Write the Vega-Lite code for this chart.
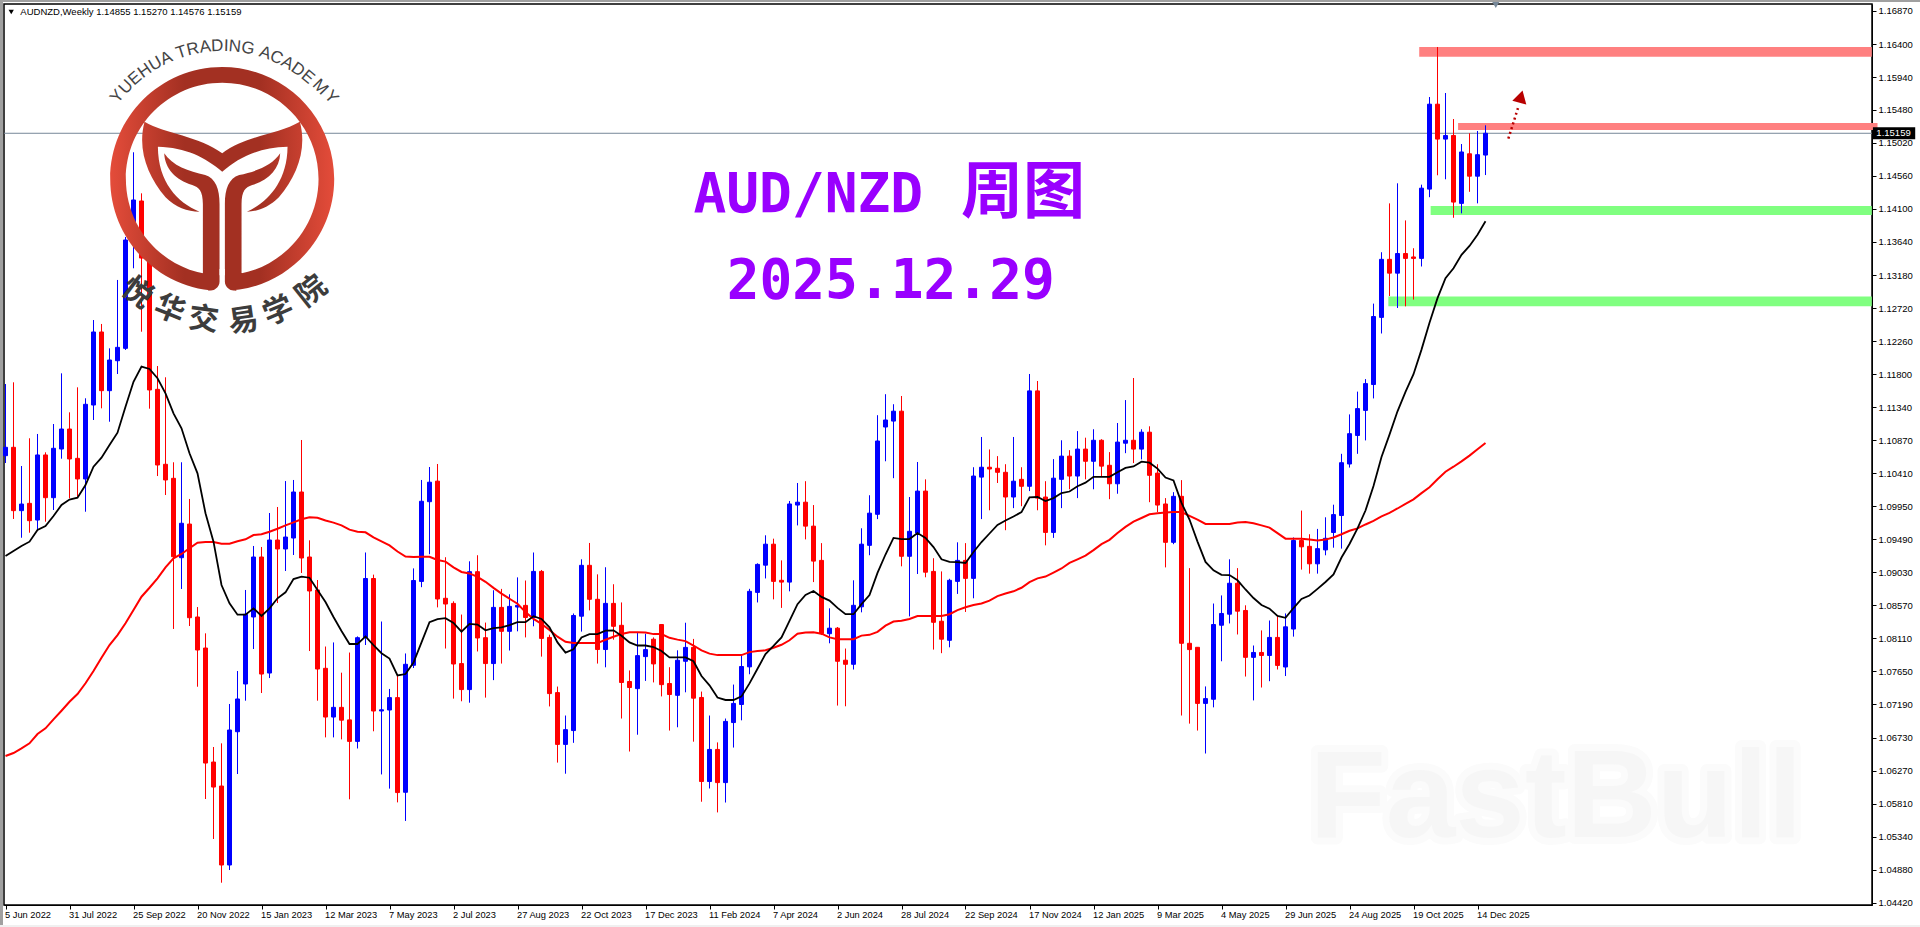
{"$schema":"https://vega.github.io/schema/vega-lite/v6.json","width":1868,"height":901,"autosize":{"type":"none"},"padding":{"left":4,"top":4,"right":48,"bottom":22},"background":"#ffffff","config":{"view":{"stroke":"#000000","strokeWidth":1.5,"fill":"#ffffff"},"axis":{"title":null,"grid":false,"labelOverlap":false,"labelBound":false,"labelFlush":false}},
"datasets":{"c":[
{"d":"2022-06-05","o":1.1066,"h":1.1166,"l":1.10558,"c":1.10777,"f":1.09261,"s":1.06469},
{"d":"2022-06-12","o":1.10777,"h":1.11684,"l":1.09777,"c":1.09893,"f":1.0933,"s":1.06511},
{"d":"2022-06-19","o":1.09893,"h":1.10516,"l":1.09515,"c":1.09985,"f":1.094,"s":1.06576},
{"d":"2022-06-26","o":1.09995,"h":1.10903,"l":1.09585,"c":1.09753,"f":1.0946,"s":1.06646},
{"d":"2022-07-03","o":1.09762,"h":1.10963,"l":1.09623,"c":1.1067,"f":1.09623,"s":1.06776},
{"d":"2022-07-10","o":1.1067,"h":1.10707,"l":1.09739,"c":1.10074,"f":1.09679,"s":1.06855},
{"d":"2022-07-17","o":1.10074,"h":1.11102,"l":1.09902,"c":1.10763,"f":1.09818,"s":1.06981},
{"d":"2022-07-24","o":1.10753,"h":1.11809,"l":1.10618,"c":1.11032,"f":1.09972,"s":1.07101},
{"d":"2022-07-31","o":1.11032,"h":1.11265,"l":1.10065,"c":1.10614,"f":1.10048,"s":1.07226},
{"d":"2022-08-07","o":1.10623,"h":1.11614,"l":1.10088,"c":1.10335,"f":1.10074,"s":1.07334},
{"d":"2022-08-14","o":1.10335,"h":1.11461,"l":1.09878,"c":1.11377,"f":1.10251,"s":1.07484},
{"d":"2022-08-21","o":1.11367,"h":1.12553,"l":1.11158,"c":1.12386,"f":1.10506,"s":1.07655},
{"d":"2022-08-28","o":1.12386,"h":1.12498,"l":1.11321,"c":1.11567,"f":1.10632,"s":1.07841},
{"d":"2022-09-04","o":1.11567,"h":1.12158,"l":1.11134,"c":1.11995,"f":1.10809,"s":1.08018},
{"d":"2022-09-11","o":1.11985,"h":1.13112,"l":1.118,"c":1.12172,"f":1.10981,"s":1.08157},
{"d":"2022-09-18","o":1.12158,"h":1.13712,"l":1.12135,"c":1.1367,"f":1.11344,"s":1.08321},
{"d":"2022-09-25","o":1.1367,"h":1.14894,"l":1.13275,"c":1.14228,"f":1.11692,"s":1.08506},
{"d":"2022-10-02","o":1.14214,"h":1.14321,"l":1.1239,"c":1.13418,"f":1.11902,"s":1.08692},
{"d":"2022-10-09","o":1.13418,"h":1.13446,"l":1.11316,"c":1.11577,"f":1.1187,"s":1.08817},
{"d":"2022-10-16","o":1.11586,"h":1.11911,"l":1.10376,"c":1.1053,"f":1.1174,"s":1.08949},
{"d":"2022-10-23","o":1.1054,"h":1.11754,"l":1.10111,"c":1.10321,"f":1.1153,"s":1.09102},
{"d":"2022-10-30","o":1.10344,"h":1.10568,"l":1.08242,"c":1.0925,"f":1.11251,"s":1.09228},
{"d":"2022-11-06","o":1.09236,"h":1.10568,"l":1.088,"c":1.09717,"f":1.11042,"s":1.09288},
{"d":"2022-11-13","o":1.09706,"h":1.10056,"l":1.08283,"c":1.08399,"f":1.10693,"s":1.09368},
{"d":"2022-11-20","o":1.08409,"h":1.08548,"l":1.07436,"c":1.07948,"f":1.10414,"s":1.09446},
{"d":"2022-11-27","o":1.07976,"h":1.08181,"l":1.05869,"c":1.06371,"f":1.09856,"s":1.09455},
{"d":"2022-12-04","o":1.06385,"h":1.06595,"l":1.05311,"c":1.06036,"f":1.0946,"s":1.09455},
{"d":"2022-12-11","o":1.0605,"h":1.06646,"l":1.04701,"c":1.04948,"f":1.08855,"s":1.09432},
{"d":"2022-12-18","o":1.04948,"h":1.07195,"l":1.04878,"c":1.06832,"f":1.086,"s":1.09432},
{"d":"2022-12-25","o":1.06808,"h":1.07655,"l":1.06218,"c":1.07265,"f":1.08441,"s":1.09465},
{"d":"2023-01-01","o":1.07474,"h":1.08786,"l":1.07241,"c":1.08447,"f":1.08441,"s":1.09493},
{"d":"2023-01-08","o":1.08409,"h":1.094,"l":1.07962,"c":1.09246,"f":1.0853,"s":1.09553},
{"d":"2023-01-15","o":1.09246,"h":1.09386,"l":1.07348,"c":1.07613,"f":1.08423,"s":1.09563},
{"d":"2023-01-22","o":1.07627,"h":1.0986,"l":1.07557,"c":1.09483,"f":1.0853,"s":1.09599},
{"d":"2023-01-29","o":1.09483,"h":1.09944,"l":1.08604,"c":1.09358,"f":1.0867,"s":1.09641},
{"d":"2023-02-05","o":1.09358,"h":1.10306,"l":1.09051,"c":1.09525,"f":1.08753,"s":1.09688},
{"d":"2023-02-12","o":1.09511,"h":1.10321,"l":1.09274,"c":1.10153,"f":1.08939,"s":1.0973},
{"d":"2023-02-19","o":1.10153,"h":1.10879,"l":1.09023,"c":1.09232,"f":1.08971,"s":1.09772},
{"d":"2023-02-26","o":1.09246,"h":1.09479,"l":1.07934,"c":1.08772,"f":1.08957,"s":1.098},
{"d":"2023-03-05","o":1.08786,"h":1.08925,"l":1.07241,"c":1.07683,"f":1.08786,"s":1.09794},
{"d":"2023-03-12","o":1.07693,"h":1.07997,"l":1.06729,"c":1.07013,"f":1.08618,"s":1.09755},
{"d":"2023-03-19","o":1.07013,"h":1.08054,"l":1.06729,"c":1.07148,"f":1.08409,"s":1.09726},
{"d":"2023-03-26","o":1.07148,"h":1.07632,"l":1.06701,"c":1.06969,"f":1.08214,"s":1.09688},
{"d":"2023-04-02","o":1.06973,"h":1.07913,"l":1.05865,"c":1.06673,"f":1.08032,"s":1.09628},
{"d":"2023-04-09","o":1.06673,"h":1.08138,"l":1.06574,"c":1.0812,"f":1.08032,"s":1.096},
{"d":"2023-04-16","o":1.0812,"h":1.09309,"l":1.08018,"c":1.08946,"f":1.08138,"s":1.09591},
{"d":"2023-04-23","o":1.08946,"h":1.09,"l":1.06814,"c":1.07097,"f":1.08018,"s":1.09519},
{"d":"2023-04-30","o":1.07097,"h":1.08346,"l":1.06212,"c":1.07114,"f":1.07904,"s":1.09463},
{"d":"2023-05-07","o":1.07111,"h":1.07405,"l":1.06014,"c":1.07284,"f":1.07828,"s":1.09407},
{"d":"2023-05-14","o":1.07284,"h":1.07585,"l":1.05822,"c":1.05959,"f":1.07594,"s":1.09323},
{"d":"2023-05-21","o":1.05963,"h":1.079,"l":1.05563,"c":1.07749,"f":1.07613,"s":1.09252},
{"d":"2023-05-28","o":1.07735,"h":1.09087,"l":1.07697,"c":1.08918,"f":1.07772,"s":1.09246},
{"d":"2023-06-04","o":1.08905,"h":1.10321,"l":1.08825,"c":1.10024,"f":1.08054,"s":1.09248},
{"d":"2023-06-11","o":1.10018,"h":1.10502,"l":1.09285,"c":1.1029,"f":1.08336,"s":1.09248},
{"d":"2023-06-18","o":1.10305,"h":1.10544,"l":1.08543,"c":1.0866,"f":1.0838,"s":1.09205},
{"d":"2023-06-25","o":1.0867,"h":1.09243,"l":1.07969,"c":1.0859,"f":1.08392,"s":1.09182},
{"d":"2023-07-02","o":1.08599,"h":1.08628,"l":1.0727,"c":1.07753,"f":1.08326,"s":1.09102},
{"d":"2023-07-09","o":1.07759,"h":1.08443,"l":1.07233,"c":1.07396,"f":1.08205,"s":1.09037},
{"d":"2023-07-16","o":1.07396,"h":1.09186,"l":1.07213,"c":1.09041,"f":1.08312,"s":1.09017},
{"d":"2023-07-23","o":1.09041,"h":1.09271,"l":1.07928,"c":1.08116,"f":1.08303,"s":1.0897},
{"d":"2023-07-30","o":1.0812,"h":1.08331,"l":1.07284,"c":1.07759,"f":1.08223,"s":1.089},
{"d":"2023-08-06","o":1.07759,"h":1.08782,"l":1.07528,"c":1.08543,"f":1.08255,"s":1.08815},
{"d":"2023-08-13","o":1.08543,"h":1.08801,"l":1.07759,"c":1.08209,"f":1.08265,"s":1.08735},
{"d":"2023-08-20","o":1.08209,"h":1.08726,"l":1.07941,"c":1.08557,"f":1.08297,"s":1.08664},
{"d":"2023-08-27","o":1.08548,"h":1.08962,"l":1.08209,"c":1.08571,"f":1.08336,"s":1.08594},
{"d":"2023-09-03","o":1.08571,"h":1.08918,"l":1.08124,"c":1.08402,"f":1.08336,"s":1.08477},
{"d":"2023-09-10","o":1.08402,"h":1.09309,"l":1.08279,"c":1.09045,"f":1.0842,"s":1.08382},
{"d":"2023-09-17","o":1.09045,"h":1.09065,"l":1.07856,"c":1.0811,"f":1.08382,"s":1.08312},
{"d":"2023-09-24","o":1.08124,"h":1.08162,"l":1.07161,"c":1.0734,"f":1.08265,"s":1.08227},
{"d":"2023-10-01","o":1.07354,"h":1.07438,"l":1.06377,"c":1.06631,"f":1.08054,"s":1.08134},
{"d":"2023-10-08","o":1.06631,"h":1.07034,"l":1.06222,"c":1.06837,"f":1.07913,"s":1.08063},
{"d":"2023-10-15","o":1.06824,"h":1.08458,"l":1.06653,"c":1.0843,"f":1.07959,"s":1.08045},
{"d":"2023-10-22","o":1.0842,"h":1.09214,"l":1.08205,"c":1.0913,"f":1.08124,"s":1.08045},
{"d":"2023-10-29","o":1.0913,"h":1.09442,"l":1.08501,"c":1.08656,"f":1.08171,"s":1.08045},
{"d":"2023-11-05","o":1.08656,"h":1.09004,"l":1.07759,"c":1.07955,"f":1.08171,"s":1.08045},
{"d":"2023-11-12","o":1.07955,"h":1.09103,"l":1.07707,"c":1.08599,"f":1.08219,"s":1.08092},
{"d":"2023-11-19","o":1.08599,"h":1.08866,"l":1.08092,"c":1.08279,"f":1.08223,"s":1.08134},
{"d":"2023-11-26","o":1.08293,"h":1.08612,"l":1.06992,"c":1.07495,"f":1.08148,"s":1.08171},
{"d":"2023-12-03","o":1.07509,"h":1.07663,"l":1.06532,"c":1.07425,"f":1.08054,"s":1.08195},
{"d":"2023-12-10","o":1.07409,"h":1.08185,"l":1.06766,"c":1.0787,"f":1.08011,"s":1.08195},
{"d":"2023-12-17","o":1.07856,"h":1.08176,"l":1.07517,"c":1.07954,"f":1.08011,"s":1.08191},
{"d":"2023-12-24","o":1.08099,"h":1.08124,"l":1.07496,"c":1.07754,"f":1.0799,"s":1.0817},
{"d":"2023-12-31","o":1.08304,"h":1.08311,"l":1.07301,"c":1.07465,"f":1.07934,"s":1.0817},
{"d":"2024-01-07","o":1.07481,"h":1.07708,"l":1.06824,"c":1.07327,"f":1.07846,"s":1.08118},
{"d":"2024-01-14","o":1.07316,"h":1.07944,"l":1.0687,"c":1.07806,"f":1.07846,"s":1.08093},
{"d":"2024-01-21","o":1.07791,"h":1.08329,"l":1.07358,"c":1.07985,"f":1.07846,"s":1.08072},
{"d":"2024-01-28","o":1.07985,"h":1.08103,"l":1.06669,"c":1.07276,"f":1.07791,"s":1.08011},
{"d":"2024-02-04","o":1.07286,"h":1.07368,"l":1.05831,"c":1.06113,"f":1.07585,"s":1.07944},
{"d":"2024-02-11","o":1.06113,"h":1.07034,"l":1.06016,"c":1.06561,"f":1.07455,"s":1.07898},
{"d":"2024-02-18","o":1.06561,"h":1.06659,"l":1.05682,"c":1.06098,"f":1.07285,"s":1.07877},
{"d":"2024-02-25","o":1.06098,"h":1.06992,"l":1.0582,"c":1.06952,"f":1.07251,"s":1.07877},
{"d":"2024-03-03","o":1.06936,"h":1.07466,"l":1.06587,"c":1.07203,"f":1.07251,"s":1.07877},
{"d":"2024-03-10","o":1.07188,"h":1.07867,"l":1.06967,"c":1.07718,"f":1.07301,"s":1.07877},
{"d":"2024-03-17","o":1.07713,"h":1.08802,"l":1.0761,"c":1.08767,"f":1.07482,"s":1.07919},
{"d":"2024-03-24","o":1.08752,"h":1.09158,"l":1.08612,"c":1.09143,"f":1.07687,"s":1.07934},
{"d":"2024-03-31","o":1.09132,"h":1.09549,"l":1.08947,"c":1.09425,"f":1.07892,"s":1.07944},
{"d":"2024-04-07","o":1.09425,"h":1.09502,"l":1.08655,"c":1.08906,"f":1.08005,"s":1.0798},
{"d":"2024-04-14","o":1.08921,"h":1.09199,"l":1.08536,"c":1.08896,"f":1.08124,"s":1.08021},
{"d":"2024-04-21","o":1.08896,"h":1.10028,"l":1.08767,"c":1.09986,"f":1.08356,"s":1.08084},
{"d":"2024-04-28","o":1.09971,"h":1.10279,"l":1.09687,"c":1.10011,"f":1.08588,"s":1.08176},
{"d":"2024-05-05","o":1.10011,"h":1.10304,"l":1.09492,"c":1.09677,"f":1.08716,"s":1.08191},
{"d":"2024-05-12","o":1.09677,"h":1.09971,"l":1.08896,"c":1.09189,"f":1.08772,"s":1.08197},
{"d":"2024-05-19","o":1.09199,"h":1.0944,"l":1.08157,"c":1.08176,"f":1.08689,"s":1.08176},
{"d":"2024-05-26","o":1.08176,"h":1.0853,"l":1.08042,"c":1.08253,"f":1.08638,"s":1.08124},
{"d":"2024-06-02","o":1.08253,"h":1.08269,"l":1.07173,"c":1.07791,"f":1.08536,"s":1.08099},
{"d":"2024-06-09","o":1.07806,"h":1.07969,"l":1.07163,"c":1.07749,"f":1.08448,"s":1.08099},
{"d":"2024-06-16","o":1.07749,"h":1.08921,"l":1.07676,"c":1.08572,"f":1.08448,"s":1.08099},
{"d":"2024-06-23","o":1.08551,"h":1.09647,"l":1.08474,"c":1.09425,"f":1.08588,"s":1.08149},
{"d":"2024-06-30","o":1.09409,"h":1.10108,"l":1.09271,"c":1.09858,"f":1.08716,"s":1.0816},
{"d":"2024-07-07","o":1.09842,"h":1.11225,"l":1.09775,"c":1.10865,"f":1.09024,"s":1.08201},
{"d":"2024-07-14","o":1.1106,"h":1.11518,"l":1.10582,"c":1.11158,"f":1.09281,"s":1.08289},
{"d":"2024-07-21","o":1.11143,"h":1.11378,"l":1.10346,"c":1.11281,"f":1.09513,"s":1.08345},
{"d":"2024-07-28","o":1.11281,"h":1.11493,"l":1.09116,"c":1.09256,"f":1.09497,"s":1.08356},
{"d":"2024-08-04","o":1.09256,"h":1.10083,"l":1.08417,"c":1.09605,"f":1.09497,"s":1.08381},
{"d":"2024-08-11","o":1.0958,"h":1.10572,"l":1.09009,"c":1.10166,"f":1.0958,"s":1.08423},
{"d":"2024-08-18","o":1.10166,"h":1.1033,"l":1.08963,"c":1.09034,"f":1.09513,"s":1.08423},
{"d":"2024-08-25","o":1.09045,"h":1.09229,"l":1.07954,"c":1.08335,"f":1.09385,"s":1.08423},
{"d":"2024-09-01","o":1.0835,"h":1.09045,"l":1.07904,"c":1.08099,"f":1.09214,"s":1.08423},
{"d":"2024-09-08","o":1.08084,"h":1.08942,"l":1.07986,"c":1.08921,"f":1.09178,"s":1.08448},
{"d":"2024-09-15","o":1.08906,"h":1.09451,"l":1.08731,"c":1.09199,"f":1.09174,"s":1.08505},
{"d":"2024-09-22","o":1.09199,"h":1.0944,"l":1.08479,"c":1.08948,"f":1.09163,"s":1.08545},
{"d":"2024-09-29","o":1.08948,"h":1.10499,"l":1.0867,"c":1.10376,"f":1.09317,"s":1.08576},
{"d":"2024-10-06","o":1.10361,"h":1.10921,"l":1.09775,"c":1.10499,"f":1.09455,"s":1.08597},
{"d":"2024-10-13","o":1.10499,"h":1.10747,"l":1.09898,"c":1.10474,"f":1.09574,"s":1.08638},
{"d":"2024-10-20","o":1.10484,"h":1.10654,"l":1.10279,"c":1.10428,"f":1.09693,"s":1.087},
{"d":"2024-10-27","o":1.10428,"h":1.10541,"l":1.0962,"c":1.10083,"f":1.09755,"s":1.08737},
{"d":"2024-11-03","o":1.10083,"h":1.10921,"l":1.09928,"c":1.10304,"f":1.09811,"s":1.08767},
{"d":"2024-11-10","o":1.1033,"h":1.10499,"l":1.09955,"c":1.10233,"f":1.09873,"s":1.08817},
{"d":"2024-11-17","o":1.10233,"h":1.118,"l":1.10166,"c":1.11564,"f":1.10078,"s":1.08896},
{"d":"2024-11-24","o":1.11564,"h":1.11702,"l":1.09898,"c":1.10068,"f":1.10083,"s":1.08948},
{"d":"2024-12-01","o":1.10083,"h":1.10304,"l":1.09409,"c":1.09589,"f":1.10026,"s":1.08973},
{"d":"2024-12-08","o":1.09589,"h":1.10612,"l":1.09513,"c":1.10346,"f":1.10068,"s":1.09029},
{"d":"2024-12-15","o":1.1033,"h":1.10875,"l":1.09928,"c":1.10654,"f":1.10139,"s":1.09086},
{"d":"2024-12-22","o":1.10654,"h":1.10737,"l":1.10191,"c":1.10376,"f":1.1016,"s":1.09163},
{"d":"2024-12-29","o":1.10376,"h":1.11003,"l":1.10068,"c":1.10752,"f":1.10233,"s":1.09214},
{"d":"2025-01-05","o":1.10752,"h":1.10911,"l":1.1033,"c":1.10582,"f":1.10284,"s":1.09266},
{"d":"2025-01-12","o":1.10582,"h":1.11029,"l":1.10191,"c":1.10875,"f":1.10365,"s":1.09343},
{"d":"2025-01-19","o":1.10875,"h":1.1089,"l":1.10376,"c":1.10514,"f":1.10365,"s":1.09425},
{"d":"2025-01-26","o":1.10526,"h":1.1071,"l":1.10053,"c":1.10268,"f":1.10365,"s":1.09486},
{"d":"2025-02-02","o":1.10268,"h":1.11116,"l":1.10129,"c":1.1085,"f":1.10428,"s":1.0958},
{"d":"2025-02-09","o":1.10834,"h":1.11436,"l":1.10695,"c":1.10875,"f":1.1049,"s":1.09666},
{"d":"2025-02-16","o":1.10875,"h":1.11744,"l":1.10557,"c":1.10752,"f":1.1051,"s":1.09739},
{"d":"2025-02-23","o":1.10752,"h":1.11029,"l":1.10608,"c":1.10988,"f":1.10577,"s":1.0979},
{"d":"2025-03-02","o":1.10988,"h":1.1107,"l":1.10011,"c":1.10386,"f":1.10562,"s":1.09842},
{"d":"2025-03-09","o":1.10417,"h":1.10541,"l":1.09873,"c":1.09971,"f":1.1048,"s":1.09858},
{"d":"2025-03-16","o":1.09986,"h":1.10068,"l":1.09101,"c":1.09451,"f":1.10355,"s":1.09867},
{"d":"2025-03-23","o":1.09451,"h":1.10151,"l":1.09425,"c":1.10093,"f":1.10315,"s":1.09873},
{"d":"2025-03-30","o":1.10093,"h":1.10319,"l":1.07034,"c":1.08042,"f":1.10001,"s":1.09873},
{"d":"2025-04-06","o":1.08042,"h":1.09091,"l":1.06921,"c":1.07954,"f":1.09769,"s":1.09821},
{"d":"2025-04-13","o":1.07986,"h":1.07986,"l":1.06824,"c":1.07203,"f":1.09461,"s":1.09769},
{"d":"2025-04-20","o":1.07203,"h":1.0744,"l":1.06504,"c":1.0727,"f":1.09178,"s":1.09708},
{"d":"2025-04-27","o":1.07261,"h":1.08597,"l":1.07148,"c":1.08304,"f":1.09061,"s":1.09708},
{"d":"2025-05-04","o":1.08294,"h":1.0871,"l":1.07791,"c":1.08458,"f":1.08998,"s":1.09708},
{"d":"2025-05-11","o":1.08448,"h":1.09214,"l":1.08319,"c":1.0888,"f":1.08994,"s":1.09708},
{"d":"2025-05-18","o":1.0888,"h":1.09091,"l":1.08165,"c":1.0849,"f":1.08921,"s":1.09729},
{"d":"2025-05-25","o":1.085,"h":1.08572,"l":1.07578,"c":1.07846,"f":1.08793,"s":1.09733},
{"d":"2025-06-01","o":1.07846,"h":1.08011,"l":1.07245,"c":1.07914,"f":1.08674,"s":1.09718},
{"d":"2025-06-08","o":1.07914,"h":1.08222,"l":1.07425,"c":1.07872,"f":1.08577,"s":1.09687},
{"d":"2025-06-15","o":1.07872,"h":1.0836,"l":1.07513,"c":1.08124,"f":1.08525,"s":1.09656},
{"d":"2025-06-22","o":1.08124,"h":1.08417,"l":1.07676,"c":1.07733,"f":1.08423,"s":1.0958},
{"d":"2025-06-29","o":1.07711,"h":1.08459,"l":1.07585,"c":1.08272,"f":1.08398,"s":1.09502},
{"d":"2025-07-06","o":1.08241,"h":1.09519,"l":1.08135,"c":1.09476,"f":1.08534,"s":1.09502},
{"d":"2025-07-13","o":1.09476,"h":1.09894,"l":1.0907,"c":1.09388,"f":1.0866,"s":1.09502},
{"d":"2025-07-20","o":1.09395,"h":1.09564,"l":1.09014,"c":1.09151,"f":1.08709,"s":1.09489},
{"d":"2025-07-27","o":1.09151,"h":1.09638,"l":1.09014,"c":1.09363,"f":1.08802,"s":1.09476},
{"d":"2025-08-03","o":1.09345,"h":1.098,"l":1.0927,"c":1.09507,"f":1.08897,"s":1.09489},
{"d":"2025-08-10","o":1.09588,"h":1.09976,"l":1.09376,"c":1.09838,"f":1.09002,"s":1.09519},
{"d":"2025-08-17","o":1.09825,"h":1.10686,"l":1.09363,"c":1.10562,"f":1.09239,"s":1.09564},
{"d":"2025-08-24","o":1.10544,"h":1.11236,"l":1.10494,"c":1.10967,"f":1.09428,"s":1.09613},
{"d":"2025-08-31","o":1.10942,"h":1.11554,"l":1.10686,"c":1.11317,"f":1.09645,"s":1.09645},
{"d":"2025-09-07","o":1.11292,"h":1.11729,"l":1.10873,"c":1.11666,"f":1.09895,"s":1.097},
{"d":"2025-09-14","o":1.11653,"h":1.12782,"l":1.11459,"c":1.12602,"f":1.10237,"s":1.09751},
{"d":"2025-09-21","o":1.1259,"h":1.13499,"l":1.12365,"c":1.134,"f":1.10643,"s":1.09813},
{"d":"2025-09-28","o":1.134,"h":1.14181,"l":1.12888,"c":1.13207,"f":1.10954,"s":1.09863},
{"d":"2025-10-05","o":1.13207,"h":1.14461,"l":1.12721,"c":1.13481,"f":1.11279,"s":1.09923},
{"d":"2025-10-12","o":1.13481,"h":1.13943,"l":1.12744,"c":1.13413,"f":1.11549,"s":1.09989},
{"d":"2025-10-19","o":1.13433,"h":1.13555,"l":1.12838,"c":1.13413,"f":1.11797,"s":1.1005},
{"d":"2025-10-26","o":1.13413,"h":1.14442,"l":1.133,"c":1.14393,"f":1.1214,"s":1.10138},
{"d":"2025-11-02","o":1.1438,"h":1.15665,"l":1.14267,"c":1.15565,"f":1.12514,"s":1.10219},
{"d":"2025-11-09","o":1.15565,"h":1.16363,"l":1.14573,"c":1.15078,"f":1.12858,"s":1.1033},
{"d":"2025-11-16","o":1.15078,"h":1.15721,"l":1.14517,"c":1.15128,"f":1.13138,"s":1.10436},
{"d":"2025-11-23","o":1.15128,"h":1.15358,"l":1.1398,"c":1.14199,"f":1.13275,"s":1.10506},
{"d":"2025-11-30","o":1.14181,"h":1.15009,"l":1.14042,"c":1.14898,"f":1.13462,"s":1.1058},
{"d":"2025-12-07","o":1.14873,"h":1.15159,"l":1.14342,"c":1.1456,"f":1.13587,"s":1.10661},
{"d":"2025-12-14","o":1.1456,"h":1.15191,"l":1.14181,"c":1.1486,"f":1.13744,"s":1.10749},
{"d":"2025-12-21","o":1.14855,"h":1.1527,"l":1.14576,"c":1.15159,"f":1.13931,"s":1.10837}
]},
"layer":[
{"data":{"values":[{"d":"2025-07-20","p":1.05332,"t":"FastBull"}]},"mark":{"type":"text","align":"left","baseline":"alphabetic","font":"Liberation Sans","fontWeight":"bold","fontSize":125,"fill":"#fbfbfb","stroke":"#fbfbfb","strokeWidth":14,"strokeJoin":"round"},
"encoding":{"x":{"field":"d","type":"temporal","scale":{"type":"utc","domain":[1654273800000,1795494600000],"nice":false,"padding":0},"axis":{"orient":"bottom","values":[1654387200000,1659225600000,1664064000000,1668902400000,1673740800000,1678579200000,1683417600000,1688256000000,1693094400000,1697932800000,1702771200000,1707609600000,1712448000000,1717286400000,1722124800000,1726963200000,1731801600000,1736640000000,1741478400000,1746316800000,1751155200000,1755993600000,1760832000000,1765670400000],"format":"%-d %b %Y","tickCount":60,"labelAlign":"left","labelBaseline":"top","labelAngle":0,"labelFont":"Liberation Sans","labelFontSize":9.3,"labelColor":"#000000","labelOverlap":false,"labelFlush":false,"labelPadding":1,"labelOffset":-1,"tickSize":4,"tickColor":"#000000","domainColor":"#000000","labelBound":false}},
"y":{"field":"p","type":"quantitative","scale":{"domain":[1.0439,1.16963],"nice":false,"zero":false},"axis":{"orient":"right","values":[1.1687,1.16404,1.15944,1.15484,1.15024,1.14564,1.14103,1.13642,1.13181,1.1272,1.12259,1.11798,1.11337,1.10874,1.10414,1.09953,1.09492,1.0903,1.0857,1.0811,1.0765,1.0719,1.06726,1.06266,1.05806,1.0534,1.0488,1.0442],"tickCount":60,"labelExpr":"format(round(datum.value*10000)/10000,'.5f')","labelFont":"Liberation Sans","labelFontSize":9.5,"labelColor":"#000000","labelPadding":2,"tickSize":4,"tickColor":"#000000","domainColor":"#000000","labelOverlap":false,"labelBound":false}},"text":{"field":"t"}}},
{"data":{"values":[{"d":"2025-07-20","p":1.05332,"t":"FastBull"}]},"mark":{"type":"text","align":"left","baseline":"alphabetic","font":"Liberation Sans","fontWeight":"bold","fontSize":125,"fill":"#f6f6f6"},"encoding":{"x":{"field":"d","type":"temporal","scale":{"type":"utc","domain":[1654273800000,1795494600000],"nice":false}},"y":{"field":"p","type":"quantitative","scale":{"domain":[1.0439,1.16963],"nice":false,"zero":false}},"text":{"field":"t"}}},
{"data":{"values":[{"a":"2025-10-24","b":"2026-11-24","p":1.16363,"q":1.16226},{"a":"2025-11-27","b":"2026-11-29","p":1.15303,"q":1.15205}]},"mark":{"type":"rect","fill":"#ff8080"},"encoding":{"x":{"field":"a","type":"temporal","scale":{"type":"utc","domain":[1654273800000,1795494600000],"nice":false}},"x2":{"field":"b"},"y":{"field":"p","type":"quantitative","scale":{"domain":[1.0439,1.16963],"nice":false,"zero":false}},"y2":{"field":"q"}}},
{"data":{"values":[{"a":"2025-11-03","b":"2026-11-24","p":1.14144,"q":1.14019},{"a":"2025-09-27","b":"2026-11-24","p":1.12883,"q":1.12744}]},"mark":{"type":"rect","fill":"#80ff80"},"encoding":{"x":{"field":"a","type":"temporal","scale":{"type":"utc","domain":[1654273800000,1795494600000],"nice":false}},"x2":{"field":"b"},"y":{"field":"p","type":"quantitative","scale":{"domain":[1.0439,1.16963],"nice":false,"zero":false}},"y2":{"field":"q"}}},
{"data":{"values":[{"p":1.15159}]},"mark":{"type":"rule","stroke":"#778899","strokeWidth":1},"encoding":{"y":{"field":"p","type":"quantitative","scale":{"domain":[1.0439,1.16963],"nice":false,"zero":false}}}},
{"data":{"name":"c"},"mark":{"type":"rule","strokeWidth":1},"encoding":{"x":{"field":"d","type":"temporal","scale":{"type":"utc","domain":[1654273800000,1795494600000],"nice":false}},"y":{"field":"l","type":"quantitative","scale":{"domain":[1.0439,1.16963],"nice":false,"zero":false}},"y2":{"field":"h"},"stroke":{"condition":{"test":"datum.c>datum.o","value":"#0000ff"},"value":"#ff0000"}}},
{"data":{"name":"c"},"mark":{"type":"bar","size":4,"strokeWidth":1},"encoding":{"x":{"field":"d","type":"temporal","scale":{"type":"utc","domain":[1654273800000,1795494600000],"nice":false,"padding":0}},"y":{"field":"o","type":"quantitative","scale":{"domain":[1.0439,1.16963],"nice":false,"zero":false}},"y2":{"field":"c"},"fill":{"condition":{"test":"datum.c>datum.o","value":"#0000ff"},"value":"#ff0000"},"stroke":{"condition":{"test":"datum.c>datum.o","value":"#0000ff"},"value":"#ff0000"}}},
{"data":{"name":"c"},"mark":{"type":"line","stroke":"#ff0000","strokeWidth":2},"encoding":{"x":{"field":"d","type":"temporal","scale":{"type":"utc","domain":[1654273800000,1795494600000],"nice":false}},"y":{"field":"s","type":"quantitative","scale":{"domain":[1.0439,1.16963],"nice":false,"zero":false}}}},
{"data":{"name":"c"},"mark":{"type":"line","stroke":"#000000","strokeWidth":1.8},"encoding":{"x":{"field":"d","type":"temporal","scale":{"type":"utc","domain":[1654273800000,1795494600000],"nice":false}},"y":{"field":"f","type":"quantitative","scale":{"domain":[1.0439,1.16963],"nice":false,"zero":false}}}},
{"data":{"values":[{"d":"2026-01-10","p":1.15085},{"d":"2026-01-19","p":1.1554}]},"mark":{"type":"line","stroke":"#b80000","strokeWidth":2.5,"strokeDash":[2,3]},"encoding":{"x":{"field":"d","type":"temporal","scale":{"type":"utc","domain":[1654273800000,1795494600000],"nice":false}},"y":{"field":"p","type":"quantitative","scale":{"domain":[1.0439,1.16963],"nice":false,"zero":false}}}},
{"data":{"values":[{"d":"2026-01-21","p":1.1567}]},"mark":{"type":"point","shape":"triangle-up","filled":true,"fill":"#b80000","stroke":null,"opacity":1,"size":210,"angle":15},"encoding":{"x":{"field":"d","type":"temporal","scale":{"type":"utc","domain":[1654273800000,1795494600000],"nice":false}},"y":{"field":"p","type":"quantitative","scale":{"domain":[1.0439,1.16963],"nice":false,"zero":false}}}},
{"data":{"values":[{"d":"2025-12-30","p":1.16949}]},"mark":{"type":"point","shape":"triangle-down","filled":true,"fill":"#778899","stroke":null,"opacity":1,"size":50},"encoding":{"x":{"field":"d","type":"temporal","scale":{"type":"utc","domain":[1654273800000,1795494600000],"nice":false}},"y":{"field":"p","type":"quantitative","scale":{"domain":[1.0439,1.16963],"nice":false,"zero":false}}}},
{"data":{"values":[{"t":1670770800000,"p":1.14521}],"format":{"parse":null}},"mark":{"type":"point","filled":true,"stroke":null,"opacity":1,"size":0.4444,"fill":{"gradient":"linear","x1":0,"y1":0,"x2":1,"y2":0,"stops":[{"offset":0,"color":"#e44c3a"},{"offset":0.33,"color":"#a33022"},{"offset":0.67,"color":"#a33022"},{"offset":1,"color":"#e44c3a"}]},"shape":"M336,0 A336,336 0 1,1 -336,0 A336,336 0 1,1 336,0 Z M289,0 A289,289 0 1,0 -289,0 A289,289 0 1,0 289,0 Z M-233,-172 C-170,-135 -70,-130 0,-77 C70,-130 170,-135 233,-172 C255,-90 225,-10 170,55 C140,85 105,98 74,98 C135,70 195,10 196,-97 C110,-95 50,-65 0,-22 C-50,-65 -110,-95 -193,-97 C-192,10 -135,70 -68,98 C-105,98 -140,85 -170,55 C-225,-10 -255,-90 -233,-172 Z M-174,-77 C-150,-40 -100,-22 -51,-12 C-20,-2 -8,30 -8,75 L-8,308 C-8,325 -25,335 -42,335 L-58,285 L-58,75 C-58,35 -70,25 -90,18 C-140,3 -172,-30 -174,-77 Z M174,-77 C172,-30 140,3 90,18 C70,25 58,35 58,75 L58,285 L42,335 C25,335 8,325 8,308 L8,75 C8,30 20,-2 51,-12 C100,-22 150,-40 174,-77 Z"},"encoding":{"x":{"field":"t","type":"temporal","scale":{"type":"utc","domain":[1654273800000,1795494600000],"nice":false}},"y":{"field":"p","type":"quantitative","scale":{"domain":[1.0439,1.16963],"nice":false,"zero":false}}}},
{"data":{"values":[{"t":1670770800000,"p":1.14521}],"format":{"parse":null}},"mark":{"type":"point","filled":true,"fill":"#ffffff","stroke":null,"opacity":1,"size":0.4444,"shape":"M-8,270 L8,270 L8,308 C8,325 25,335 42,338 L-42,338 C-25,335 -8,325 -8,308 Z"},"encoding":{"x":{"field":"t","type":"temporal","scale":{"type":"utc","domain":[1654273800000,1795494600000],"nice":false}},"y":{"field":"p","type":"quantitative","scale":{"domain":[1.0439,1.16963],"nice":false,"zero":false}}}},
{"data":{"values":[{"s":"Y","t":1662832800000,"p":1.15672,"a":-52},{"s":"U","t":1663513200000,"p":1.15805,"a":-46.2},{"s":"E","t":1664186040000,"p":1.15924,"a":-40.9},{"s":"H","t":1664919360000,"p":1.1603,"a":-35.6},{"s":"U","t":1665728280000,"p":1.16127,"a":-30.1},{"s":"A","t":1666552320000,"p":1.16205,"a":-24.8},{"s":"T","t":1667693880000,"p":1.16288,"a":-17.8},{"s":"R","t":1668563280000,"p":1.16331,"a":-12.7},{"s":"A","t":1669478040000,"p":1.16362,"a":-7.4},{"s":"D","t":1670400360000,"p":1.16376,"a":-2.1},{"s":"I","t":1671073200000,"p":1.16376,"a":1.7},{"s":"N","t":1671730920000,"p":1.16369,"a":5.5},{"s":"G","t":1672721280000,"p":1.16342,"a":11.2},{"s":"A","t":1674014040000,"p":1.16278,"a":18.8},{"s":"C","t":1674875880000,"p":1.16215,"a":24.1},{"s":"A","t":1675707480000,"p":1.16138,"a":29.4},{"s":"D","t":1676493720000,"p":1.16046,"a":34.7},{"s":"E","t":1677234600000,"p":1.15943,"a":40},{"s":"M","t":1678179600000,"p":1.15805,"a":45.7},{"s":"Y","t":1679011200000,"p":1.15665,"a":50}],"format":{"parse":null}},"mark":{"type":"text","font":"Liberation Sans","fontSize":17,"fill":"#444444","align":"center","baseline":"middle"},"encoding":{"x":{"field":"t","type":"temporal","scale":{"type":"utc","domain":[1654273800000,1795494600000],"nice":false}},"y":{"field":"p","type":"quantitative","scale":{"domain":[1.0439,1.16963],"nice":false,"zero":false}},"text":{"field":"s"},"angle":{"field":"a","type":"quantitative","scale":null}}},
{"data":{"values":[{"s":"悦","t":1664322120000,"p":1.12926,"a":37},{"s":"华","t":1666786680000,"p":1.12693,"a":22},{"s":"交","t":1669357080000,"p":1.12553,"a":7.5},{"s":"易","t":1672381080000,"p":1.1253,"a":-8.5},{"s":"学","t":1675027080000,"p":1.12669,"a":-23},{"s":"院","t":1677552120000,"p":1.12948,"a":-38.5}],"format":{"parse":null}},"mark":{"type":"text","font":"Noto Sans CJK SC","fontWeight":"bold","fontSize":30,"fill":"#3c3c3c","align":"center","baseline":"middle"},"encoding":{"x":{"field":"t","type":"temporal","scale":{"type":"utc","domain":[1654273800000,1795494600000],"nice":false}},"y":{"field":"p","type":"quantitative","scale":{"domain":[1.0439,1.16963],"nice":false,"zero":false}},"text":{"field":"s"},"angle":{"field":"a","type":"quantitative","scale":null}}},
{"data":{"values":[{"d":"2024-01-28","p":1.1406,"t":"AUD/NZD"},{"d":"2024-02-26","p":1.12867,"t":"2025.12.29"}]},"mark":{"type":"text","font":"DejaVu Sans Mono","fontWeight":"bold","fontSize":54.5,"fill":"#9900ff","align":"left","baseline":"alphabetic"},"encoding":{"x":{"field":"d","type":"temporal","scale":{"type":"utc","domain":[1654273800000,1795494600000],"nice":false}},"y":{"field":"p","type":"quantitative","scale":{"domain":[1.0439,1.16963],"nice":false,"zero":false}},"text":{"field":"t"}}},
{"data":{"values":[{"d":"2024-09-18","p":1.14047,"t":"周图"}]},"mark":{"type":"text","font":"Noto Sans CJK SC","fontWeight":"bold","fontSize":62,"fill":"#9900ff","align":"left","baseline":"alphabetic"},"encoding":{"x":{"field":"d","type":"temporal","scale":{"type":"utc","domain":[1654273800000,1795494600000],"nice":false}},"y":{"field":"p","type":"quantitative","scale":{"domain":[1.0439,1.16963],"nice":false,"zero":false}},"text":{"field":"t"}}},
{"data":{"values":[{"d":"2022-06-18","p":1.1681,"t":"AUDNZD,Weekly  1.14855 1.15270 1.14576 1.15159"}]},"mark":{"type":"text","font":"Liberation Sans","fontSize":9.5,"fill":"#000000","align":"left","baseline":"alphabetic"},"encoding":{"x":{"field":"d","type":"temporal","scale":{"type":"utc","domain":[1654273800000,1795494600000],"nice":false}},"y":{"field":"p","type":"quantitative","scale":{"domain":[1.0439,1.16963],"nice":false,"zero":false}},"text":{"field":"t"}}},
{"data":{"values":[{"d":"2022-06-10","p":1.16852}]},"mark":{"type":"point","shape":"triangle-down","filled":true,"fill":"#000000","stroke":null,"opacity":1,"size":28},"encoding":{"x":{"field":"d","type":"temporal","scale":{"type":"utc","domain":[1654273800000,1795494600000],"nice":false}},"y":{"field":"p","type":"quantitative","scale":{"domain":[1.0439,1.16963],"nice":false,"zero":false}}}},
{"data":{"values":[{"a":"2026-11-25","b":"2027-01-01","p":1.15243,"q":1.15075}]},"mark":{"type":"rect","fill":"#000000"},"encoding":{"x":{"field":"a","type":"temporal","scale":{"type":"utc","domain":[1654273800000,1795494600000],"nice":false}},"x2":{"field":"b"},"y":{"field":"p","type":"quantitative","scale":{"domain":[1.0439,1.16963],"nice":false,"zero":false}},"y2":{"field":"q"}}},
{"data":{"values":[{"d":"2026-11-28","p":1.15159,"t":"1.15159"}]},"mark":{"type":"text","font":"Liberation Sans","fontSize":9.5,"fill":"#ffffff","align":"left","baseline":"middle"},"encoding":{"x":{"field":"d","type":"temporal","scale":{"type":"utc","domain":[1654273800000,1795494600000],"nice":false}},"y":{"field":"p","type":"quantitative","scale":{"domain":[1.0439,1.16963],"nice":false,"zero":false}},"text":{"field":"t"}}},
{"data":{"values":[{"t":1653971400000,"u":1654198200000,"p":1.17075,"q":1.04083},{"t":1653971400000,"u":1799123400000,"p":1.17075,"q":1.16991}],"format":{"parse":null}},"mark":{"type":"rect","fill":"#a0a0a0"},"encoding":{"x":{"field":"t","type":"temporal","scale":{"type":"utc","domain":[1654273800000,1795494600000],"nice":false}},"x2":{"field":"u"},"y":{"field":"p","type":"quantitative","scale":{"domain":[1.0439,1.16963],"nice":false,"zero":false}},"y2":{"field":"q"}}},
{"data":{"values":[{"t":1653971400000,"u":1799123400000,"p":1.04111,"q":1.04069}],"format":{"parse":null}},"mark":{"type":"rect","fill":"#f0f0f0"},"encoding":{"x":{"field":"t","type":"temporal","scale":{"type":"utc","domain":[1654273800000,1795494600000],"nice":false}},"x2":{"field":"u"},"y":{"field":"p","type":"quantitative","scale":{"domain":[1.0439,1.16963],"nice":false,"zero":false}},"y2":{"field":"q"}}}
]}
